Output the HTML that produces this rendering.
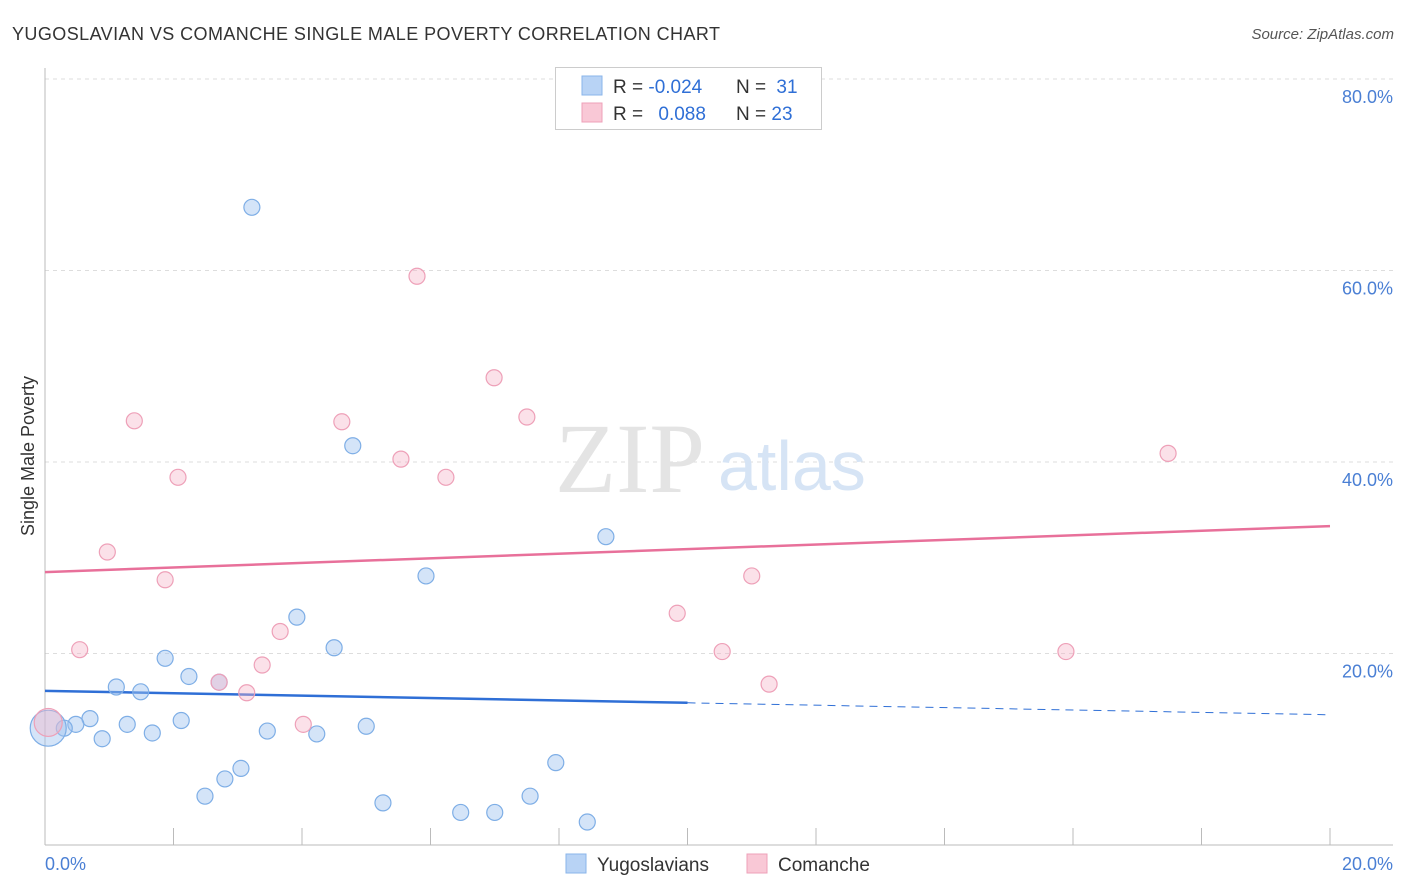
<!DOCTYPE html>
<html><head><meta charset="utf-8">
<style>
body{margin:0;background:#fff;font-family:"Liberation Sans",sans-serif;}
#wrap{position:relative;width:1406px;height:892px;overflow:hidden;}
</style></head>
<body>
<div id="wrap">
<svg id="svg" width="1406" height="892" xmlns="http://www.w3.org/2000/svg">
<text x="12" y="40" font-size="18" fill="#333" textLength="708">YUGOSLAVIAN VS COMANCHE SINGLE MALE POVERTY CORRELATION CHART</text>
<text x="1394" y="39" font-size="15" fill="#555" text-anchor="end" font-style="italic">Source: ZipAtlas.com</text>
<g id="grid"></g>
<text x="555" y="492" font-size="100" fill="#e4e4e4" font-family="Liberation Serif,serif">ZIP</text>
<text x="718" y="490" font-size="70" fill="#d6e4f5">atlas</text>
<g id="lines"></g>
<g id="points"></g>
<text x="34" y="456" font-size="18" fill="#333" text-anchor="middle" transform="rotate(-90 34 456)">Single Male Poverty</text>
<text x="45" y="870" font-size="18" fill="#4a7fd4">0.0%</text>
<text x="1393" y="870" font-size="18" fill="#4a7fd4" text-anchor="end">20.0%</text>
<g>
<rect x="555.5" y="67.5" width="266" height="62" fill="#fff" stroke="#ccc"/>
<rect x="582" y="76" width="20" height="19" fill="#b8d3f5" stroke="#8ab4ea"/>
<rect x="582" y="103" width="20" height="19" fill="#f9c8d6" stroke="#eea0b8"/>
<text x="613" y="93" font-size="19" fill="#333">R = <tspan fill="#2f6fd6">-0.024</tspan></text>
<text x="736" y="93" font-size="19" fill="#333">N = <tspan fill="#2f6fd6" dx="5">31</tspan></text>
<text x="613" y="120" font-size="19" fill="#333">R = <tspan fill="#2f6fd6" dx="10">0.088</tspan></text>
<text x="736" y="120" font-size="19" fill="#333">N = <tspan fill="#2f6fd6">23</tspan></text>
</g>
<g>
<rect x="566" y="854" width="20" height="19" fill="#b8d3f5" stroke="#8ab4ea"/>
<text x="597" y="871" font-size="19" fill="#333">Yugoslavians</text>
<rect x="747" y="854" width="20" height="19" fill="#f9c8d6" stroke="#eea0b8"/>
<text x="778" y="871" font-size="19" fill="#333">Comanche</text>
</g>
</svg>
</div>
<script>
const yTicks=[20,40,60,80];
const xTickVals=[0,2,4,6,8,10,12,14,16,18,20];
const blueX=[3.22,4.79,8.73,5.93,3.92,4.50,1.87,2.24,1.11,1.49,2.71,0.70,0.48,0.30,1.28,2.12,0.89,1.67,3.46,4.23,5.00,3.05,2.80,2.49,5.26,7.95,7.55,6.47,7.00,8.44,0.05];
const blueY=[66.6,41.7,32.2,28.1,23.8,20.6,19.5,17.6,16.5,16.0,17.0,13.2,12.6,12.2,12.6,13.0,11.1,11.7,11.9,11.6,12.4,8.0,6.9,5.1,4.4,8.6,5.1,3.4,3.4,2.4,12.2];
const pinkX=[5.79,6.99,7.50,1.39,4.62,5.54,6.24,2.07,17.48,0.97,1.87,11.00,9.84,3.66,0.54,10.54,15.89,3.38,2.71,3.14,11.27,4.02,0.05];
const pinkY=[59.4,48.8,44.7,44.3,44.2,40.3,38.4,38.4,40.9,30.6,27.7,28.1,24.2,22.3,20.4,20.2,20.2,18.8,17.0,15.9,16.8,12.6,12.8];
const pinkTrend=[28.5,33.3];
const blueTrend=[16.1,13.6];
const NS="http://www.w3.org/2000/svg";
const X=v=>45+v/20*1285, Y=v=>845-v/80*766;
function mk(tag,attrs,parent){const e=document.createElementNS(NS,tag);for(const k in attrs)e.setAttribute(k,attrs[k]);parent.appendChild(e);return e;}
const grid=document.getElementById('grid');
yTicks.forEach(t=>{
 const l=mk('line',{x1:45,x2:1393,y1:Y(t),y2:Y(t),stroke:'#ddd','stroke-dasharray':'4,4'},grid);
 
 
 const tx=mk('text',{x:1393,y:Y(t)+24,'font-size':18,fill:'#4a7fd4','text-anchor':'end'},grid);
 tx.textContent=t.toFixed(1)+'%';
 
 
});
const ax=mk('line',{x1:45,x2:1393,y1:845,y2:845,stroke:'#bbb'},grid);


const ay=mk('line',{x1:45,x2:45,y1:68,y2:845,stroke:'#bbb'},grid);


xTickVals.forEach(t=>{
 const l=mk('line',{x1:X(t),x2:X(t),y1:828,y2:845,stroke:'#bbb'},grid);
 
 
});
const lines=document.getElementById('lines');
const pl=mk('line',{x1:X(0),x2:X(20),y1:Y(pinkTrend[0]),y2:Y(pinkTrend[1]),stroke:'#e8709a','stroke-width':2.5},lines);


const bm=blueTrend[0]+(blueTrend[1]-blueTrend[0])*0.5;
const bl=mk('line',{x1:X(0),x2:X(10),y1:Y(blueTrend[0]),y2:Y(bm),stroke:'#2f6fd6','stroke-width':2.5},lines);


const bd=mk('line',{x1:X(10),x2:X(20),y1:Y(bm),y2:Y(blueTrend[1]),stroke:'#2f6fd6','stroke-width':1,'stroke-dasharray':'8,6'},lines);


const pts=document.getElementById('points');
blueX.forEach((x,i)=>{
 const big=i===blueX.length-1;
 const c=mk('circle',{cx:X(x),cy:Y(blueY[i]),r:big?18:8,fill:'rgba(160,196,240,0.45)',stroke:'#7eaee6','stroke-width':1.2},pts);
 
 
});
pinkX.forEach((x,i)=>{
 const big=i===pinkX.length-1;
 const c=mk('circle',{cx:X(x),cy:Y(pinkY[i]),r:big?14:8,fill:'rgba(245,180,200,0.4)',stroke:'#eea0b8','stroke-width':1.2},pts);
 
 
});
</script>
</body></html>
